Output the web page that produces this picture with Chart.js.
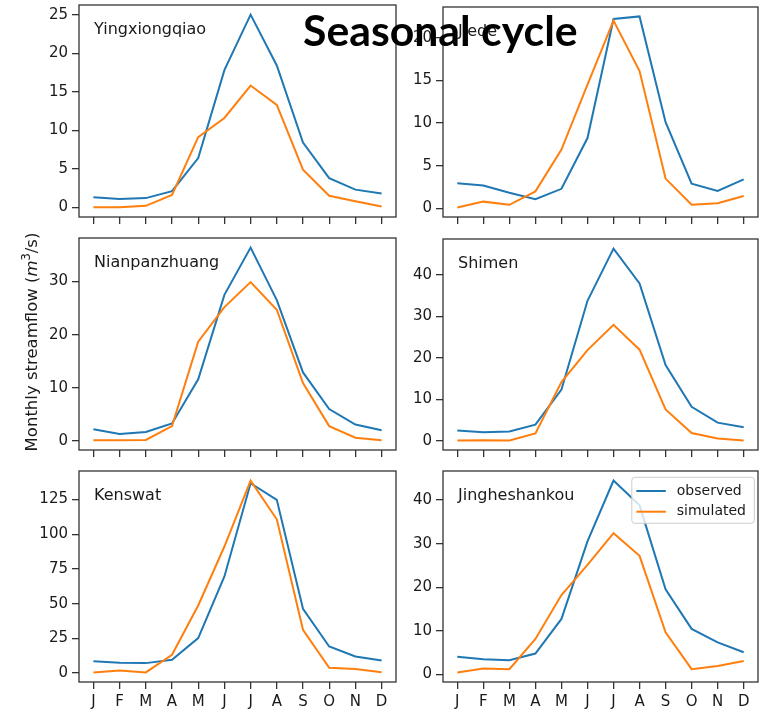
<!DOCTYPE html>
<html><head><meta charset="utf-8">
<script src="https://cdn.jsdelivr.net/npm/chart.js@4"></script>
<style>
html,body{margin:0;padding:0;background:#fff;overflow:hidden;width:759px;height:711px}
#wrap{position:relative;width:759px;height:711px;overflow:hidden}
canvas{position:absolute}
#title{position:absolute;left:303px;top:8.6px;font-family:Lato,sans-serif;font-weight:700;font-size:42px;line-height:1;white-space:nowrap;color:#000;transform-origin:0 0;z-index:5}
</style></head><body>
<div id="wrap"><div id="title">Seasonal cycle</div></div>
<script>
// ---- data ----
const months = ['J','F','M','A','M','J','J','A','S','O','N','D'];
const seriesNames = ['observed','simulated'];
const stationNames = ['Yingxiongqiao','Jiede','Nianpanzhuang','Shimen','Kenswat','Jingheshankou'];
const obsYingxiongqiao = [1.3,1.1,1.2,2.1,6.4,17.8,25.0,18.4,8.4,3.8,2.3,1.8];
const simYingxiongqiao = [0.0,0.0,0.2,1.6,9.1,11.6,15.8,13.3,4.9,1.5,0.8,0.1];
const obsJiede = [2.95,2.7,1.85,1.08,2.3,8.25,22.2,22.5,10.1,2.9,2.05,3.4];
const simJiede = [0.12,0.8,0.43,2.0,6.9,14.5,22.0,16.1,3.5,0.43,0.62,1.47];
const obsNianpanzhuang = [2.2,1.3,1.7,3.3,11.6,27.5,36.4,26.5,12.9,6.0,3.1,2.0];
const simNianpanzhuang = [0.13,0.13,0.2,2.8,18.7,25.2,29.9,24.7,10.9,2.8,0.6,0.13];
const obsShimen = [2.5,2.1,2.25,3.9,12.4,33.8,46.4,38.0,18.3,8.2,4.4,3.3];
const simShimen = [0.08,0.16,0.08,1.8,14.2,21.9,28.0,22.0,7.6,1.9,0.6,0.08];
const obsKenswat = [8.6,7.4,7.2,9.6,25.2,69.6,136.8,124.8,46.3,19.2,12.0,9.1];
const simKenswat = [0.5,1.9,0.5,13.2,48.7,91.2,138.7,110.8,31.2,3.8,2.9,0.7];
const obsJingheshankou = [4.0,3.45,3.2,4.75,12.7,30.5,44.5,38.8,19.5,10.4,7.3,5.05];
const simJingheshankou = [0.4,1.3,1.15,8.1,18.2,25.1,32.4,27.2,9.6,1.15,1.9,3.05];
const yTickSteps = [5,5,10,10,25,10];

// ---- layout ----
const panels = [
  {obs:obsYingxiongqiao, sim:simYingxiongqiao, yMin:-1.25, yMax:26.25, col:0, top:5, bottom:217},
  {obs:obsJiede, sim:simJiede, yMin:-1.0, yMax:23.6, col:1, top:7, bottom:217},
  {obs:obsNianpanzhuang, sim:simNianpanzhuang, yMin:-1.7, yMax:38.2, col:0, top:238, bottom:450, ylabel:true},
  {obs:obsShimen, sim:simShimen, yMin:-2.2, yMax:48.7, col:1, top:239, bottom:450},
  {obs:obsKenswat, sim:simKenswat, yMin:-6.4, yMax:145.6, col:0, top:471, bottom:682, xlabels:true},
  {obs:obsJingheshankou, sim:simJingheshankou, yMin:-1.8, yMax:46.7, col:1, top:471, bottom:682, xlabels:true, legend:true}
];
const cols = [{left:0, axisW:79, right:396},{left:400, axisW:43, right:758}];
const PT = 4, PR = 3;
const FONT = {family:'DejaVu Sans', size:15};
const TXT = '#1a1a1a';
const AX = '#333';
const COLORS = ['#1f77b4','#ff7f0e'];

const framePlugin = {id:'frame', afterDatasetsDraw(c){
  const a=c.chartArea, x=c.ctx; x.save(); x.strokeStyle=AX; x.lineWidth=1.3;
  x.strokeRect(a.left,a.top,a.right-a.left,a.bottom-a.top); x.restore();
}};
const namePlugin = {id:'stname', afterDraw(c){
  const a=c.chartArea, x=c.ctx; x.save(); x.font='16px "DejaVu Sans"'; x.fillStyle=TXT;
  x.textBaseline='middle'; x.textAlign='left';
  x.fillText(c.options.plugins.stname.text, a.left+15, a.top+25); x.restore();
}};
const legendPlugin = {id:'mylegend', afterDraw(c){
  if(!c.options.plugins.mylegend.show) return;
  const a=c.chartArea, x=c.ctx; x.save();
  const w=122.5, h=46, bx=a.right-3.7-w, by=a.top+6.3, r=3;
  x.beginPath(); x.roundRect(bx,by,w,h,r);
  x.fillStyle='rgba(255,255,255,0.8)'; x.fill();
  x.strokeStyle='#cccccc'; x.lineWidth=1; x.stroke();
  x.font='14px "DejaVu Sans"'; x.textBaseline='middle'; x.textAlign='left';
  c.data.datasets.forEach((d,i)=>{
    const yy = by+13.7+i*20.7;
    x.strokeStyle=d.borderColor; x.lineWidth=2; x.beginPath(); x.moveTo(bx+4.5,yy); x.lineTo(bx+34,yy); x.stroke();
    x.fillStyle=TXT; x.fillText(d.label, bx+45, yy);
  });
  x.restore();
}};
const ylabelPlugin = {id:'ylab', afterDraw(c){
  if(!c.options.plugins.ylab.show) return;
  const x=c.ctx; const top=c.options.plugins.ylab.canvasTop;
  x.save(); x.translate(36.5, 342-top); x.rotate(-Math.PI/2);
  x.fillStyle=TXT; x.textBaseline='alphabetic'; x.textAlign='left';
  const parts=[['Monthly streamflow (', '16.5px "DejaVu Sans"',0],['m','italic 16.5px "DejaVu Sans"',0],['3','11.5px "DejaVu Sans"',-6.5],['/s)','16.5px "DejaVu Sans"',0]];
  let total=0; parts.forEach(p=>{x.font=p[1]; p[3]=x.measureText(p[0]).width; total+=p[3];});
  let cx=-total/2;
  parts.forEach(p=>{x.font=p[1]; x.fillText(p[0],cx,p[2]); cx+=p[3];});
  x.restore();
}};

const wrap = document.getElementById('wrap');
panels.forEach((p,idx)=>{
  const col = cols[p.col];
  const xh = p.xlabels ? 29 : 10;
  const cw = col.right - col.left + PR;
  const ch = PT + (p.bottom - p.top) + xh;
  const ctop = p.top - PT;
  const cv = document.createElement('canvas');
  cv.width = cw; cv.height = ch;
  cv.style.left = col.left+'px'; cv.style.top = ctop+'px';
  cv.style.width = cw+'px'; cv.style.height = ch+'px';
  wrap.appendChild(cv);
  const step = yTickSteps[idx];
  const grid = {drawOnChartArea:false, drawTicks:true, tickLength:7, color:AX, lineWidth:1.3};
  new Chart(cv.getContext('2d'), {
    type:'line',
    data:{datasets:[
      {label:seriesNames[0], data:p.obs.map((v,i)=>({x:i,y:v})), borderColor:COLORS[0], borderWidth:2, pointRadius:0, tension:0, fill:false, order:1},
      {label:seriesNames[1], data:p.sim.map((v,i)=>({x:i,y:v})), borderColor:COLORS[1], borderWidth:2, pointRadius:0, tension:0, fill:false, order:0}
    ]},
    options:{
      responsive:false, animation:false, devicePixelRatio:1, events:[],
      layout:{padding:{top:PT, right:PR, left:0, bottom:0}},
      plugins:{legend:{display:false}, tooltip:{enabled:false},
        stname:{text:stationNames[idx]}, mylegend:{show:!!p.legend}, ylab:{show:!!p.ylabel, canvasTop:ctop}},
      scales:{
        x:{type:'linear', min:-0.55, max:11.55,
           afterBuildTicks:s=>{s.ticks = months.map((m,i)=>({value:i}));},
           afterFit:s=>{s.height = xh; s.paddingLeft = 0; s.paddingRight = 0; s.paddingTop = 0; s.paddingBottom = 0;},
           grid:grid, border:{display:false},
           ticks:{display:!!p.xlabels, callback:v=>months[v], font:FONT, color:TXT, padding:4, maxRotation:0, autoSkip:false}},
        y:{type:'linear', min:p.yMin, max:p.yMax,
           afterBuildTicks:s=>{const t=[]; for(let v=Math.ceil(p.yMin/step)*step; v<=p.yMax; v+=step) t.push({value:v}); s.ticks=t;},
           afterFit:s=>{s.width = col.axisW; s.paddingTop = 0; s.paddingBottom = 0; s.paddingLeft = 0; s.paddingRight = 0;},
           grid:grid, border:{display:false},
           ticks:{font:FONT, color:TXT, padding:4}}
      }
    },
    plugins:[framePlugin, namePlugin, legendPlugin, ylabelPlugin]
  });
});
// fit title width
const t = document.getElementById('title');
const w = t.getBoundingClientRect().width;
t.style.transform = 'scaleX(' + (274.6 / w) + ')';
</script>
</body></html>
